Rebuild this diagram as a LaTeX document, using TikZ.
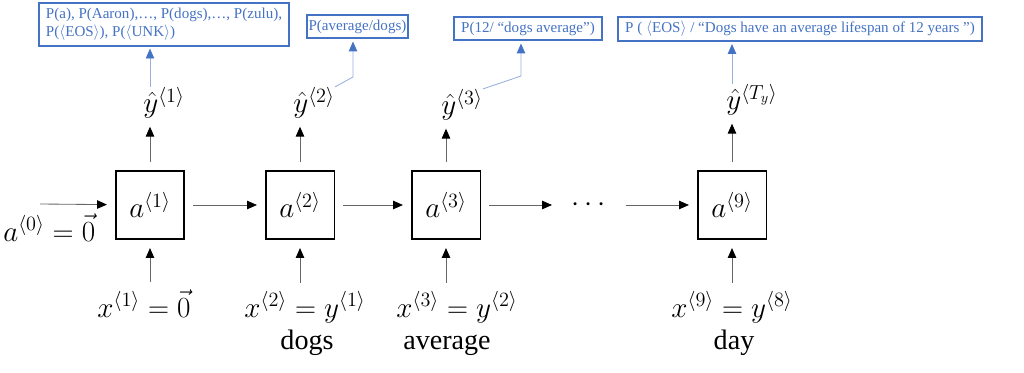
\documentclass[tikz,border=0pt]{standalone}
\usepackage{fontspec}
\setmainfont{Liberation Serif}
\usetikzlibrary{arrows.meta}
\definecolor{pblue}{RGB}{68,114,196}
\definecolor{plink}{RGB}{150,175,220}

\begin{document}
\begin{tikzpicture}[x=0.025cm, y=-0.025cm,
cell/.style={draw, line width=1.3pt, minimum size=1.72cm, inner sep=0pt, font=\fontsize{20}{24}\selectfont},
lbl/.style={inner sep=0pt, font=\fontsize{20}{24}\selectfont},
word/.style={inner sep=0pt, anchor=base, font=\fontsize{20}{24}\selectfont},
prob/.style={draw=pblue, line width=1.4pt, text=pblue, inner xsep=5pt, inner ysep=3.5pt, font=\fontsize{10.7}{12.8}\selectfont},
one/.style={text height=0.75em, text depth=0.25em},
flow/.style={draw=black!60, line width=0.6pt, shorten <=5.5pt, shorten >=5.5pt, -{Triangle[length=7pt, width=6pt, color=black]}},
link/.style={draw=plink, line width=0.6pt, shorten >=1.5pt, -{Triangle[length=7pt, width=6pt, color=pblue]}}]
\useasboundingbox (0,0) rectangle (1024,373);

\node (a1) at (150,205) [cell] {$a^{\langle 1\rangle}$};
\node (a2) at (300,205) [cell] {$a^{\langle 2\rangle}$};
\node (a3) at (446,205) [cell] {$a^{\langle 3\rangle}$};
\node (dots) at (589,205) [lbl, minimum width=1.45cm] {$\cdots$};
\node (a9) at (732,205) [cell] {$a^{\langle 9\rangle}$};

\node (a0) at (3,241) [lbl, anchor=base west] {$a^{\langle 0\rangle} = \vec{0}$};
\coordinate (a0in) at (40,204);

\node (x1) at (144,317) [word] {$x^{\langle 1\rangle} = \vec{0}$};
\node (x2) at (305,317) [word] {$x^{\langle 2\rangle} = y^{\langle 1\rangle}$};
\node (x3) at (457,317) [word] {$x^{\langle 3\rangle} = y^{\langle 2\rangle}$};
\node (x9) at (732,317) [word] {$x^{\langle 9\rangle} = y^{\langle 8\rangle}$};
\node (w2) at (307,349) [word] {dogs};
\node (w3) at (447,349) [word] {average};
\node (w9) at (734,349) [word] {day};

\node (yh1) at (143,113) [lbl, anchor=base west] {$\hat{y}^{\langle 1\rangle}$};
\node (yh2) at (293,113) [lbl, anchor=base west] {$\hat{y}^{\langle 2\rangle}$};
\node (yh3) at (441,115) [lbl, anchor=base west] {$\hat{y}^{\langle 3\rangle}$};
\node (yh9) at (726,110) [lbl, anchor=base west] {$\hat{y}^{\langle T_y\rangle}$};

\node (p1) at (164,24.5) [prob, align=left] {P(a), P(Aaron),…, P(dogs),…, P(zulu),\\P($\langle$EOS$\rangle$), P($\langle$UNK$\rangle$)};
\node (p2) at (357.5,26.5) [prob, one, inner xsep=1pt] {P(average/dogs)};
\node (p3) at (528,28.5) [prob, one] {P(12/ “dogs average”)};
\node (p4) at (800,29) [prob, one] {P ( $\langle$EOS$\rangle$ / “Dogs have an average lifespan of 12 years ”)};

\draw [flow, shorten <=0pt] (a0in) -- (a1);
\draw [flow] (a1) -- (a2);
\draw [flow] (a2) -- (a3);
\draw [flow] (a3) -- (dots);
\draw [flow] (dots) -- (a9);

\draw [flow] (a1 |- x1.north) -- (a1);
\draw [flow] (a2 |- x2.north) -- (a2);
\draw [flow] (a3 |- x3.north) -- (a3);
\draw [flow] (a9 |- x9.north) -- (a9);

\draw [flow] (a1) -- (a1 |- yh1.south);
\draw [flow] (a2) -- (a2 |- yh2.south);
\draw [flow] (a3) -- (a3 |- yh3.south);
\draw [flow] (a9) -- (a9 |- yh9.south);

\coordinate (b2) at (353,77);
\coordinate (b3) at (521,76);
\draw [link] (yh1.north -| a1) -- (p1.south -| a1);
\draw [link] (yh2.north east) -- (b2) -- (b2 |- p2.south);
\draw [link] (yh3.north east) -- (b3) -- (b3 |- p3.south);
\draw [link] (yh9.north -| a9) -- (p4.south -| a9);
\end{tikzpicture}
\end{document}
